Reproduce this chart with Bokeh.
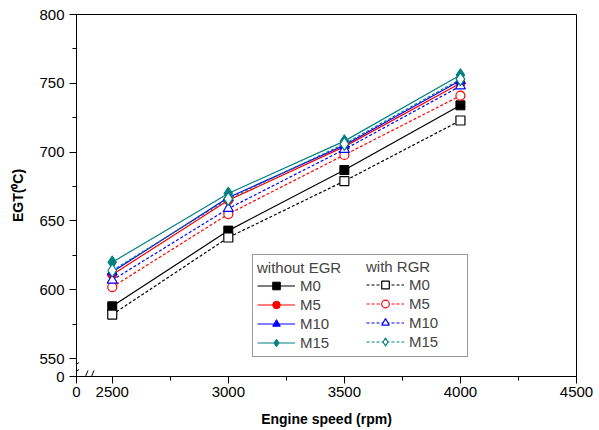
from bokeh.plotting import figure
from bokeh.models import Legend, LegendItem, FixedTicker, Arrow, Range1d
from bokeh.embed import file_html
from bokeh.resources import INLINE

# ---- data ----
speed = [2500, 3000, 3500, 4000]
series_names = ["M0", "M5", "M10", "M15"]
without_egr_M0 = [588, 643, 687, 734]
without_egr_M5 = [611, 665, 704, 750]
without_egr_M10 = [613, 667, 705, 752]
without_egr_M15 = [620, 670, 708, 756]
with_rgr_M0 = [582, 638, 679, 723]
with_rgr_M5 = [602, 655, 698, 741]
with_rgr_M10 = [607, 659, 702, 748]
with_rgr_M15 = [614, 666, 706, 753]
x_ticks = [2500, 3000, 3500, 4000, 4500]
x_minor = [2750, 3250, 3750, 4250]
y_ticks = [550, 600, 650, 700, 750, 800]
y_minor = [575, 625, 675, 725, 775]

without_egr = [without_egr_M0, without_egr_M5, without_egr_M10, without_egr_M15]
with_rgr = [with_rgr_M0, with_rgr_M5, with_rgr_M10, with_rgr_M15]

# axis breaks: the range start stands for 0
X0 = 2346
Y0 = 537

colors = ["#000000", "#FF0000", "#0000FF", "#008080"]
markers = ["square", "circle", "triangle", "diamond"]
sizes = [9, 9, 10, 13]

FONT = "Liberation Sans"

p = figure(width=599, height=430, x_range=Range1d(X0, 4500), y_range=Range1d(Y0, 800),
           output_backend="svg", toolbar_location=None,
           min_border_left=76, min_border_right=23, min_border_top=14, min_border_bottom=54)
p.xgrid.visible = False
p.ygrid.visible = False
p.outline_line_color = "black"
p.outline_line_alpha = 1
p.outline_line_width = 1

p.xaxis.ticker = FixedTicker(ticks=[X0] + x_ticks, minor_ticks=x_minor)
p.xaxis.major_label_overrides = {X0: "0"}
p.yaxis.ticker = FixedTicker(ticks=[Y0] + y_ticks, minor_ticks=y_minor)
p.yaxis.major_label_overrides = {Y0: "0"}

for ax in (p.xaxis, p.yaxis):
    ax.axis_line_color = "black"
    ax.major_tick_line_color = "black"
    ax.minor_tick_line_color = "black"
    ax.major_tick_in = 0
    ax.major_tick_out = 7
    ax.minor_tick_in = 0
    ax.minor_tick_out = 4
    ax.major_label_text_font = FONT
    ax.major_label_text_font_size = "15px"
    ax.major_label_text_color = "black"
    ax.axis_label_text_font = FONT
    ax.axis_label_text_font_size = "14px"
    ax.axis_label_text_font_style = "bold"
    ax.axis_label_text_color = "black"
p.xaxis.major_label_standoff = 3
p.yaxis.major_label_standoff = 5
p.xaxis.axis_label_standoff = 11
p.yaxis.axis_label_standoff = 10
p.xaxis.axis_label = "Engine speed (rpm)"
p.yaxis.axis_label = "EGT(\u2070C)"

items1, items2 = [], []
for name, vals, col, mk, sz in zip(series_names, without_egr, colors, markers, sizes):
    l = p.line(speed, vals, line_color=col, line_width=1.2)
    s = p.scatter(speed, vals, marker=mk, size=sz, fill_color=col, line_color=col)
    items1.append(LegendItem(label=name, renderers=[l, s]))
for name, vals, col, mk, sz in zip(series_names, with_rgr, colors, markers, sizes):
    l = p.line(speed, vals, line_color=col, line_width=1.2, line_dash="3 2")
    s = p.scatter(speed, vals, marker=mk, size=sz, fill_color="white", line_color=col, line_width=1.2)
    items2.append(LegendItem(label=name, renderers=[l, s]))

def style_legend(lg):
    lg.margin = 0
    lg.padding = 4
    lg.spacing = 0
    lg.glyph_width = 38
    lg.glyph_height = 19
    lg.label_height = 19
    lg.label_standoff = 5
    lg.label_text_font = FONT
    lg.label_text_font_size = "15px"
    lg.title_text_font = FONT
    lg.title_text_font_size = "15px"
    lg.title_text_font_style = "normal"
    lg.title_standoff = 0
    lg.click_policy = "none"
    lg.border_line_color = "#333333"
    lg.border_line_width = 1

leg1 = Legend(items=items1, title="without EGR", location=(176, 19))
style_legend(leg1)
leg1.label_width = 214 - 8 - 38 - 5
leg1.background_fill_color = "white"
leg1.background_fill_alpha = 1

leg2 = Legend(items=items2, title="with RGR", location=(286, 21))
style_legend(leg2)
leg2.border_line_alpha = 0
leg2.background_fill_alpha = 0

p.add_layout(leg1, "center")
p.add_layout(leg2, "center")

# axis break marks
px_x = (4500 - X0) / 499.5
px_y = (800 - Y0) / 362.0
breaks = [
    ((-6.5, 8), (2.5, 14)),
    ((-6.5, 1), (2.5, 7)),
    ((6.5, -6), (11.5, 6)),
    ((12.5, -6), (17.5, 6)),
]
for (a, b) in breaks:
    p.add_layout(Arrow(x_start=X0 + a[0] * px_x, y_start=Y0 + a[1] * px_y,
                       x_end=X0 + b[0] * px_x, y_end=Y0 + b[1] * px_y,
                       start=None, end=None, line_color="black", line_width=1))

open("out.html", "w").write(file_html(p, INLINE))
